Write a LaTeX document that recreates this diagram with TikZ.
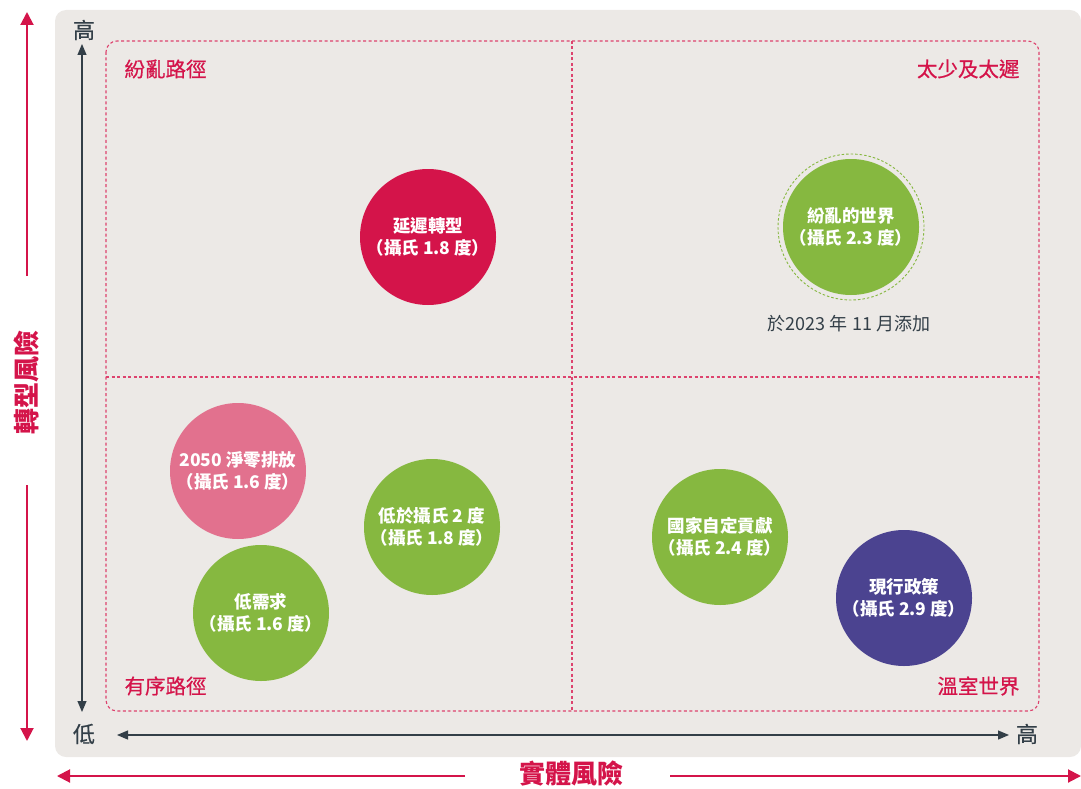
\documentclass[tikz,border=0pt]{standalone}
\usepackage{fontspec}
\setmainfont{Noto Sans CJK TC}
\newfontfamily\medfont{Noto Sans CJK TC}[FakeBold=0.6]
\usetikzlibrary{arrows.meta}
\definecolor{bgc}{HTML}{ECE9E6}
\definecolor{redc}{HTML}{D4144A}
\definecolor{greenc}{HTML}{86B840}
\definecolor{pinkc}{HTML}{E2718E}
\definecolor{purplec}{HTML}{4B4390}
\definecolor{darkc}{HTML}{333F48}
\tikzset{
  bubble/.style={circle, minimum size=136pt, inner sep=0pt, text=white, align=center, font=\fontsize{17.5}{22}\selectfont\bfseries},
  quad/.style={text=redc, font=\fontsize{20.5}{24}\medfont},
  axlab/.style={text=darkc, font=\fontsize{22}{25}\medfont},
  title/.style={text=redc, font=\fontsize{26}{30}\selectfont\bfseries},
  darkarrow/.style={draw=darkc, line width=1.2pt, -{Triangle[width=9pt,length=11pt]}},
  redarrow/.style={draw=redc, line width=2pt, -{Triangle[width=13pt,length=13pt]}},
  dashbox/.style={draw=redc!80, line width=1.1pt, dash pattern=on 3pt off 2.5pt}
}
\begin{document}
\begin{tikzpicture}[x=1pt,y=-1pt]
\useasboundingbox (0,0) rectangle (1081,789);
% background
\fill[bgc, rounded corners=11pt] (55,10) rectangle (1081,757);
% dashed quadrant box
\draw[dashbox, rounded corners=11pt] (106,41) rectangle (1039,711);
\draw[dashbox] (572,41) -- (572,711);
\draw[dashbox] (106,377) -- (1039,377);
% axes
\coordinate (vtop) at (82,44);
\coordinate (vbot) at (82,712);
\coordinate (hl) at (117,735);
\coordinate (hr) at (1009,735);
\coordinate (vmid) at (82,380);
\coordinate (hmid) at (560,735);
\draw[darkarrow] (vmid) -- (vtop);
\draw[darkarrow] (vmid) -- (vbot);
\draw[darkarrow] (hmid) -- (hl);
\draw[darkarrow] (hmid) -- (hr);
\node[axlab] (yhi) at (84,30) {高};
\node[axlab] (ylo) at (84,734) {低};
\node[axlab] (xhi) at (1027,734) {高};
% red axis titles
\node[title, rotate=90] (ytitle) at (26,382) {轉型風險};
\coordinate (rt1) at (27,276);
\coordinate (rt2) at (27,12);
\coordinate (rb1) at (27,485);
\coordinate (rb2) at (27,741);
\draw[redarrow] (rt1) -- (rt2);
\draw[redarrow] (rb1) -- (rb2);
\node[title] (xtitle) at (571,774) {實體風險};
\coordinate (rl1) at (465,776);
\coordinate (rl2) at (57,776);
\coordinate (rr1) at (670,776);
\coordinate (rr2) at (1081,776);
\draw[redarrow] (rl1) -- (rl2);
\draw[redarrow] (rr1) -- (rr2);
% quadrant labels
\node[quad, anchor=west] (q1) at (121,69) {紛亂路徑};
\node[quad, anchor=east] (q2) at (1023,69) {太少及太遲};
\node[quad, anchor=west] (q3) at (121,686) {有序路徑};
\node[quad, anchor=east] (q4) at (1023,686) {溫室世界};
% bubbles
\node[bubble, fill=redc] (b1) at (428,237) {延遲轉型\\（攝氏 1.8 度）};
\node[bubble, fill=greenc] (b2) at (851,227) {紛亂的世界\\（攝氏 2.3 度）};
\draw[greenc, line width=0.9pt, dash pattern=on 2.5pt off 2pt] (b2.center) circle (73pt);
\node[text=darkc, font=\fontsize{18}{21}\selectfont] (note) at (849,324) {於2023 年 11 月添加};
\node[bubble, fill=pinkc] (b3) at (238,471) {2050 淨零排放\\（攝氏 1.6 度）};
\node[bubble, fill=greenc] (b4) at (432,527) {低於攝氏 2 度\\（攝氏 1.8 度）};
\node[bubble, fill=greenc] (b5) at (261,613) {低需求\\（攝氏 1.6 度）};
\node[bubble, fill=greenc] (b6) at (720,537) {國家自定貢獻\\（攝氏 2.4 度）};
\node[bubble, fill=purplec] (b7) at (904,598) {現行政策\\（攝氏 2.9 度）};
\end{tikzpicture}
\end{document}
